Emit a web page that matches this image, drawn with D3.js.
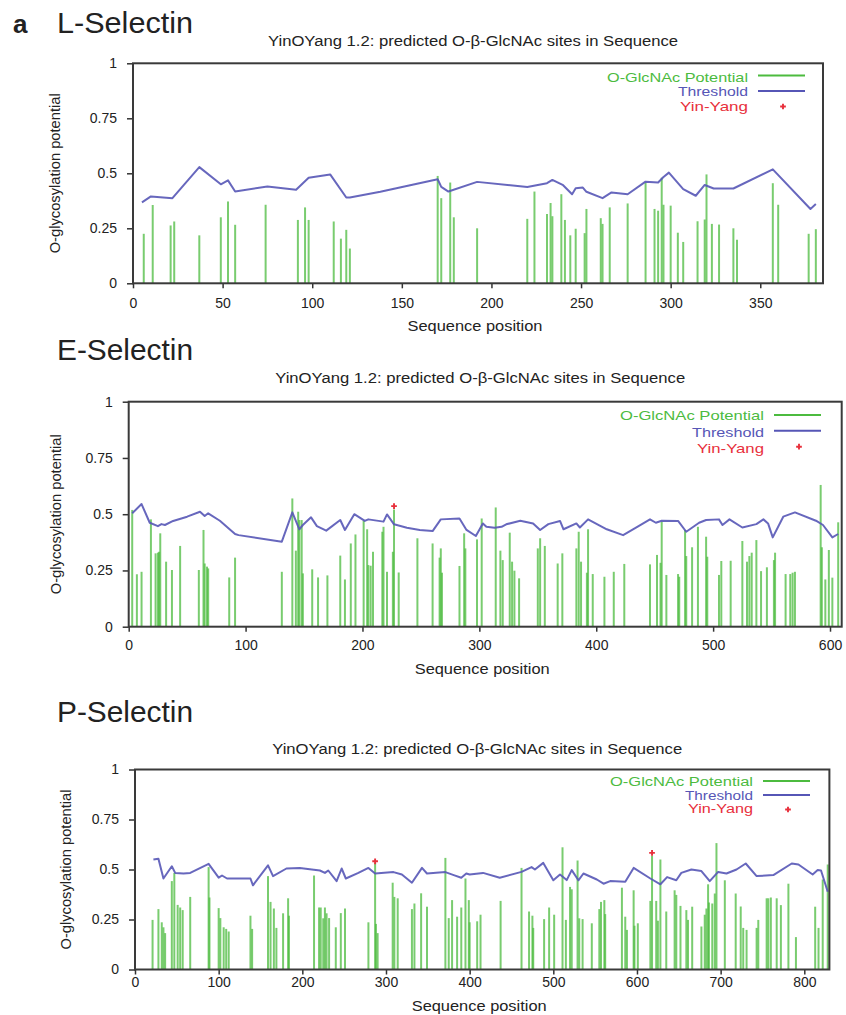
<!DOCTYPE html>
<html><head><meta charset="utf-8">
<script src="https://cdn.jsdelivr.net/npm/d3@7"></script>
<style>body{margin:0;background:#fff}svg{display:block}text{font-family:"Liberation Sans",Arial,sans-serif;fill:#222}</style>
</head><body><svg id="c" width="846" height="1015"></svg>
<script>
// ---------- data ----------
const panelTitles = ["L-Selectin", "E-Selectin", "P-Selectin"];
const subtitleText = "YinOYang 1.2: predicted O-β-GlcNAc sites in Sequence";
const legendLabels = ["O-GlcNAc Potential", "Threshold", "Yin-Yang"];
const xAxisTitle = "Sequence position";
const yAxisTitle = "O-glycosylation potential";
const yTicks = [0, 0.25, 0.5, 0.75, 1];
const yTickLabels = ["0", "0.25", "0.5", "0.75", "1"];
const lXTicks = [0, 50, 100, 150, 200, 250, 300, 350];
const eXTicks = [0, 100, 200, 300, 400, 500, 600];
const pXTicks = [0, 100, 200, 300, 400, 500, 600, 700, 800];
const seqLengths = [385, 610, 830];

// L-Selectin
const lSitePos = [6,11,21,23,37,49,53,57,74,92,96,98,112,116,119,121,170,172,177,179,192,220,224,231,233,234,239,241,244,247,252,253,261,262,266,276,286,291,293,295,296,300,304,307,315,319,320,323,327,335,337,357,360,377,381];
const lSiteVal = [0.225,0.356,0.263,0.281,0.218,0.30,0.372,0.266,0.357,0.288,0.345,0.288,0.281,0.203,0.243,0.158,0.488,0.387,0.458,0.30,0.25,0.293,0.417,0.315,0.365,0.305,0.405,0.288,0.218,0.248,0.228,0.338,0.296,0.27,0.345,0.363,0.458,0.338,0.33,0.48,0.357,0.353,0.23,0.188,0.282,0.29,0.495,0.27,0.267,0.25,0.198,0.455,0.357,0.225,0.246];
const lThrPos = [5,10,22,37,49,53,57,75,91,98,110,119,121,138,170,172,176,192,220,231,234,240,245,247,251,253,262,267,276,286,293,296,299,307,314,319,324,335,357,378,381];
const lThrVal = [0.368,0.395,0.387,0.528,0.45,0.468,0.417,0.44,0.425,0.48,0.495,0.39,0.39,0.416,0.473,0.438,0.417,0.461,0.438,0.455,0.47,0.446,0.405,0.432,0.435,0.416,0.387,0.413,0.405,0.462,0.458,0.483,0.503,0.428,0.398,0.447,0.431,0.431,0.518,0.338,0.36];
const lYinPos = [];
const lYinVal = [];

// E-Selectin
const eSitePos = [3,7,11,19,23,25,26,27,32,37,44,60,64,65,67,68,86,91,131,140,143,145,146,148,149,157,162,170,181,185,190,194,201,204,205,207,209,217,218,221,226,227,231,247,260,266,267,268,283,287,288,298,302,314,318,320,326,328,330,334,350,352,356,367,371,383,385,387,392,393,397,407,415,424,446,452,455,456,460,470,471,476,477,482,487,494,495,505,507,515,525,529,531,533,537,541,546,552,553,562,566,568,570,592,593,596,599,602,607];
const eSiteVal = [0.519,0.233,0.244,0.477,0.326,0.329,0.333,0.415,0.289,0.252,0.359,0.252,0.43,0.281,0.267,0.259,0.219,0.307,0.244,0.57,0.338,0.511,0.474,0.474,0.237,0.255,0.219,0.228,0.316,0.21,0.37,0.41,0.471,0.433,0.274,0.271,0.333,0.422,0.444,0.244,0.333,0.521,0.241,0.393,0.37,0.307,0.348,0.24,0.27,0.415,0.348,0.388,0.481,0.53,0.338,0.296,0.418,0.289,0.249,0.215,0.348,0.393,0.359,0.281,0.326,0.348,0.422,0.289,0.24,0.433,0.234,0.222,0.244,0.279,0.277,0.319,0.284,0.467,0.23,0.234,0.222,0.43,0.314,0.353,0.444,0.4,0.311,0.23,0.292,0.293,0.381,0.289,0.314,0.329,0.385,0.247,0.264,0.296,0.329,0.234,0.234,0.24,0.244,0.63,0.353,0.21,0.341,0.218,0.464];
const eThrPos = [3,11,18,25,28,31,38,50,61,65,68,78,91,94,131,140,146,149,156,161,169,181,185,193,202,205,218,221,227,238,249,260,267,283,289,297,303,306,313,319,323,335,346,352,359,369,372,383,386,393,409,423,434,446,451,456,470,477,488,494,505,508,514,525,537,543,547,551,560,570,588,594,602,607];
const eThrVal = [0.504,0.545,0.462,0.447,0.456,0.452,0.47,0.489,0.511,0.492,0.504,0.471,0.412,0.407,0.378,0.508,0.433,0.452,0.486,0.447,0.427,0.474,0.43,0.5,0.47,0.477,0.467,0.499,0.455,0.44,0.43,0.425,0.477,0.481,0.43,0.403,0.459,0.444,0.44,0.444,0.455,0.471,0.459,0.43,0.456,0.47,0.433,0.459,0.441,0.477,0.433,0.407,0.44,0.477,0.462,0.471,0.47,0.422,0.462,0.474,0.477,0.452,0.477,0.441,0.456,0.477,0.459,0.397,0.489,0.508,0.471,0.452,0.397,0.412];
const eYinPos = [227];
const eYinVal = [0.536];

// P-Selectin
const pSitePos = [21,28,32,34,36,44,47,51,54,57,66,88,89,100,102,106,109,112,138,140,159,162,166,169,177,183,184,214,220,222,225,227,229,232,240,246,251,279,287,288,290,308,310,314,331,334,342,349,371,375,379,385,390,395,399,400,409,413,437,462,471,475,476,489,495,501,511,515,520,522,529,531,535,546,555,557,561,562,582,586,588,596,597,601,616,618,623,625,628,635,645,647,652,659,661,666,677,681,683,685,686,690,693,695,705,718,724,727,731,743,745,755,757,760,767,772,781,790,813,817,822,828];
const pSiteVal = [0.248,0.302,0.236,0.211,0.182,0.442,0.483,0.323,0.31,0.297,0.363,0.512,0.36,0.307,0.257,0.211,0.203,0.19,0.269,0.203,0.467,0.338,0.305,0.208,0.281,0.356,0.269,0.47,0.31,0.31,0.256,0.31,0.281,0.257,0.211,0.282,0.305,0.236,0.533,0.228,0.182,0.434,0.363,0.356,0.302,0.33,0.381,0.314,0.558,0.257,0.347,0.264,0.31,0.455,0.347,0.236,0.241,0.274,0.343,0.508,0.29,0.269,0.208,0.252,0.31,0.274,0.611,0.248,0.413,0.401,0.545,0.256,0.252,0.231,0.302,0.338,0.347,0.277,0.409,0.264,0.198,0.396,0.219,0.231,0.343,0.569,0.343,0.244,0.55,0.29,0.396,0.373,0.318,0.297,0.248,0.314,0.215,0.274,0.305,0.426,0.335,0.33,0.38,0.632,0.446,0.38,0.315,0.208,0.198,0.208,0.248,0.356,0.356,0.36,0.356,0.322,0.429,0.162,0.314,0.208,0.45,0.525];
const pThrPos = [22,28,34,44,48,58,66,88,100,104,110,138,141,159,165,181,197,221,227,231,241,247,252,267,279,287,309,319,331,343,349,371,381,390,396,400,416,436,462,474,478,488,500,508,516,522,530,536,552,560,568,586,596,616,628,636,647,653,665,677,687,697,707,719,730,743,763,785,793,810,816,820,828];
const pThrVal = [0.55,0.554,0.455,0.516,0.483,0.48,0.483,0.528,0.459,0.47,0.455,0.455,0.421,0.521,0.467,0.505,0.508,0.495,0.483,0.495,0.442,0.505,0.455,0.483,0.508,0.48,0.487,0.475,0.434,0.508,0.48,0.487,0.472,0.459,0.48,0.475,0.483,0.459,0.488,0.512,0.5,0.533,0.446,0.475,0.447,0.497,0.446,0.48,0.45,0.429,0.442,0.439,0.508,0.455,0.426,0.462,0.446,0.483,0.5,0.492,0.442,0.488,0.48,0.5,0.53,0.467,0.472,0.53,0.525,0.475,0.497,0.495,0.389];
const pYinPos = [287, 618];
const pYinVal = [0.541, 0.583];

// ---------- layout (positions / styles) ----------
const GREEN = "#4cbb3f", BLUE = "#5656b6", RED = "#e8303c";
const layouts = [
  {left:133, right:823, top:63.3, bottom:283.3, titleY:33, subY:46, tickY:308, xTitleY:331, yTitleX:55,
   legRight:748, legBase:[81.5,96,111], legLineDy:[-6,-5,-4.5], legLen:[141,70,68], legSize:13},
  {left:128.7, right:841.7, top:401.7, bottom:626.7, titleY:360, subY:383, tickY:650, xTitleY:674, yTitleX:56,
   legRight:764, legBase:[420,436.5,452.5], legLineDy:[-5,-5.8,-5.8], legLen:[144,72,67], legSize:13.5},
  {left:135, right:829.4, top:769.5, bottom:969.5, titleY:722, subY:754, tickY:987, xTitleY:1011, yTitleX:66,
   legRight:753, legBase:[786,799.5,813], legLineDy:[-5,-4.5,-3.5], legLen:[143,68,65], legSize:12}
];
const panelData = [
  {sitePos:lSitePos, siteVal:lSiteVal, thrPos:lThrPos, thrVal:lThrVal, yinPos:lYinPos, yinVal:lYinVal, xTicks:lXTicks},
  {sitePos:eSitePos, siteVal:eSiteVal, thrPos:eThrPos, thrVal:eThrVal, yinPos:eYinPos, yinVal:eYinVal, xTicks:eXTicks},
  {sitePos:pSitePos, siteVal:pSiteVal, thrPos:pThrPos, thrVal:pThrVal, yinPos:pYinPos, yinVal:pYinVal, xTicks:pXTicks}
];

const svg = d3.select("#c");

// panel letter
svg.append("text").attr("x", 13).attr("y", 33).attr("font-size", 26).attr("font-weight", "bold").text("a");

panelData.forEach((d, i) => {
  const L = layouts[i];
  const x = d3.scaleLinear().domain([0, seqLengths[i]]).range([L.left, L.right]);
  const y = d3.scaleLinear().domain([0, 1]).range([L.bottom, L.top]);
  const g = svg.append("g");

  // titles
  g.append("text").attr("x", 57).attr("y", L.titleY).attr("font-size", 29)
    .attr("textLength", 136).attr("lengthAdjust", "spacingAndGlyphs").text(panelTitles[i]);
  const cx = (L.left + L.right) / 2 - 5;
  g.append("text").attr("x", cx).attr("y", L.subY).attr("font-size", 14).attr("text-anchor", "middle")
    .attr("textLength", 410).attr("lengthAdjust", "spacingAndGlyphs").text(subtitleText);

  // bars
  const sites = d.sitePos.map((p, k) => ({p, v: d.siteVal[k]}));
  g.append("g").selectAll("line").data(sites).join("line")
    .attr("x1", s => x(s.p)).attr("x2", s => x(s.p))
    .attr("y1", y(0)).attr("y2", s => y(s.v))
    .attr("stroke", GREEN).attr("stroke-width", 2).attr("stroke-opacity", 0.75);

  // threshold
  const thr = d.thrPos.map((p, k) => [p, d.thrVal[k]]);
  g.append("path").datum(thr)
    .attr("d", d3.line().x(t => x(t[0])).y(t => y(t[1])))
    .attr("fill", "none").attr("stroke", BLUE).attr("stroke-width", 2).attr("stroke-opacity", 0.9)
    .attr("stroke-linejoin", "round");

  // yin-yang
  const yin = d.yinPos.map((p, k) => ({p, v: d.yinVal[k]}));
  g.append("g").selectAll("path").data(yin).join("path")
    .attr("transform", s => `translate(${x(s.p)},${y(s.v)})`)
    .attr("d", d3.symbol(d3.symbolCross, 18)).attr("fill", RED);

  // axes
  const xa = g.append("g").attr("transform", `translate(0,${L.bottom})`)
    .call(d3.axisBottom(x).tickValues(d.xTicks).tickSize(5).tickFormat(d3.format("d")));
  xa.select(".domain").remove();
  xa.selectAll("line").attr("stroke", "#333").attr("stroke-width", 1.5);
  xa.selectAll("text").attr("font-size", 14).attr("dy", null).attr("y", L.tickY - L.bottom)
    .attr("font-family", '"Liberation Sans", Arial, sans-serif').attr("fill", "#222");

  const ya = g.append("g").attr("transform", `translate(${L.left},0)`)
    .call(d3.axisLeft(y).tickValues(yTicks).tickSize(6).tickPadding(10).tickFormat((v, k) => yTickLabels[k]));
  ya.select(".domain").remove();
  ya.selectAll("line").attr("stroke", "#333").attr("stroke-width", 1.5);
  ya.selectAll("text").attr("font-size", 14).attr("font-family", '"Liberation Sans", Arial, sans-serif').attr("fill", "#222");

  // frame
  g.append("rect").attr("x", L.left).attr("y", L.top)
    .attr("width", L.right - L.left).attr("height", L.bottom - L.top)
    .attr("fill", "none").attr("stroke", "#3a3a3a").attr("stroke-width", 2);

  // axis titles
  g.append("text").attr("x", cx + 2).attr("y", L.xTitleY).attr("text-anchor", "middle").attr("font-size", 14.5)
    .attr("textLength", 135).attr("lengthAdjust", "spacingAndGlyphs").text(xAxisTitle);
  g.append("text").attr("transform", `translate(${L.yTitleX},${(L.top + L.bottom) / 2}) rotate(-90)`)
    .attr("text-anchor", "middle").attr("dy", "0.35em").attr("font-size", 14)
    .attr("textLength", 160).attr("lengthAdjust", "spacingAndGlyphs").text(yAxisTitle);

  // legend
  const legColors = [GREEN, BLUE, RED];
  legendLabels.forEach((lab, k) => {
    g.append("text").attr("x", L.legRight).attr("y", L.legBase[k]).attr("text-anchor", "end")
      .attr("font-size", L.legSize).style("fill", legColors[k])
      .attr("textLength", L.legLen[k]).attr("lengthAdjust", "spacingAndGlyphs").text(lab);
    const ly = L.legBase[k] + L.legLineDy[k];
    if (k < 2) {
      g.append("line").attr("x1", L.legRight + 10).attr("x2", L.legRight + 57)
        .attr("y1", ly).attr("y2", ly).attr("stroke", legColors[k]).attr("stroke-width", 2);
    } else {
      g.append("path").attr("transform", `translate(${L.legRight + 35},${ly})`)
        .attr("d", d3.symbol(d3.symbolCross, 18)).attr("fill", RED);
    }
  });
});
</script>
</body></html>
